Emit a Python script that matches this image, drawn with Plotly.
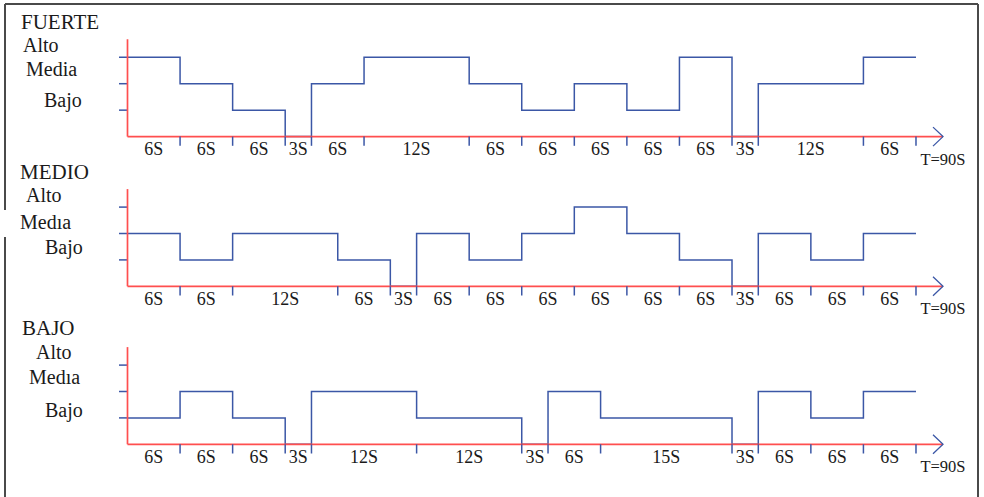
import plotly.graph_objects as go
import numpy as np

# ---------------- data ----------------
panel_titles = ["FUERTE", "MEDIO", "BAJO"]
level_names_fuerte = ["Alto", "Media", "Bajo"]
level_names_medio = ["Alto", "Medıa", "Bajo"]
level_names_bajo = ["Alto", "Medıa", "Bajo"]

fuerte_dur = [6, 6, 6, 3, 6, 12, 6, 6, 6, 6, 6, 3, 12, 6]
fuerte_lvl = [3, 2, 1, 0, 2, 3, 2, 1, 2, 1, 3, 0, 2, 3]

medio_dur = [6, 6, 12, 6, 3, 6, 6, 6, 6, 6, 6, 3, 6, 6, 6]
medio_lvl = [2, 1, 2, 1, 0, 2, 1, 2, 3, 2, 1, 0, 2, 1, 2]

bajo_dur = [6, 6, 6, 3, 12, 12, 3, 6, 15, 3, 6, 6, 6]
bajo_lvl = [1, 2, 1, 0, 2, 1, 0, 2, 1, 0, 2, 1, 2]

total_label = "T=90S"

# ---------------- styling / layout ----------------
W, H = 984, 497
X0_PX, PX_PER_S = 127.5, 8.761
BASE_PX = [136.6, 286.3, 444.3]
STEP_PX = [26.45, 26.4, 26.4]
BLUE = "#3B57A6"
RED = "#FF4F4F"
TXT = "#1a1a1a"
FONT = "Liberation Serif"

x_range = [-X0_PX / PX_PER_S, (W - X0_PX) / PX_PER_S]

fig = go.Figure()
panels = [
    (fuerte_dur, fuerte_lvl, level_names_fuerte),
    (medio_dur, medio_lvl, level_names_medio),
    (bajo_dur, bajo_lvl, level_names_bajo),
]
ytick_len = 8.5 / PX_PER_S
arrow_tip = (943 - X0_PX) / PX_PER_S
arrow_back = (933 - X0_PX) / PX_PER_S

for i, (dur, lvl, names) in enumerate(panels):
    ya = "y" if i == 0 else f"y{i+1}"
    bounds = np.concatenate([[0], np.cumsum(dur)])
    s = STEP_PX[i]
    # step signal
    fig.add_trace(go.Scatter(
        x=bounds, y=list(lvl) + [lvl[-1]], mode="lines", line_shape="hv",
        line=dict(color=BLUE, width=1.5), yaxis=ya, hoverinfo="skip"))
    # y ticks
    tx, ty = [], []
    for L in (1, 2, 3):
        tx += [-ytick_len, 0, None]
        ty += [L, L, None]
    fig.add_trace(go.Scatter(x=tx, y=ty, mode="lines",
                             line=dict(color=BLUE, width=1.5), yaxis=ya, hoverinfo="skip"))
    # red axes
    fig.add_trace(go.Scatter(
        x=[0, 0, None, 0, arrow_tip], y=[3 + 18 / s, 0, None, 0, 0], mode="lines",
        line=dict(color=RED, width=1.7), yaxis=ya, hoverinfo="skip"))
    # bottom ticks
    bx, by = [], []
    for b in bounds[1:]:
        bx += [b, b, None]
        by += [0, -9.2 / s, None]
    fig.add_trace(go.Scatter(x=bx, y=by, mode="lines",
                             line=dict(color=BLUE, width=1.5), yaxis=ya, hoverinfo="skip"))
    # arrow head
    fig.add_trace(go.Scatter(x=[arrow_back, arrow_tip, arrow_back],
                             y=[9.5 / s, 0, -9.5 / s], mode="lines",
                             line=dict(color=BLUE, width=1.3), yaxis=ya, hoverinfo="skip"))
    # segment labels
    mids = (bounds[:-1] + bounds[1:]) / 2
    fig.add_trace(go.Scatter(
        x=mids, y=[-13.8 / s] * len(mids), mode="text",
        text=[f"{d}S" for d in dur], textposition="middle center",
        textfont=dict(family=FONT, size=18, color=TXT), yaxis=ya, hoverinfo="skip"))
    # T=90S
    fig.add_trace(go.Scatter(
        x=[arrow_tip], y=[-24 / s], mode="text", text=[total_label],
        textposition="middle center",
        textfont=dict(family=FONT, size=16.5, color=TXT), yaxis=ya, hoverinfo="skip"))

# left labels (pixel positions: x-left, y-center)
label_pos = [
    [(19, 22), (21, 45), (24, 69), (42, 100)],
    [(18, 172), (24, 195), (18, 222), (43, 247)],
    [(20, 328), (34, 352), (27, 377), (43, 410)],
]
annotations = []
for i, title in enumerate(panel_titles):
    texts = [title] + panels[i][2]
    for j, (t, (px, py)) in enumerate(zip(texts, label_pos[i])):
        annotations.append(dict(
            text=t, x=px / W, y=1 - py / H, xref="paper", yref="paper",
            xanchor="left", yanchor="middle", showarrow=False,
            font=dict(family=FONT, size=21 if j == 0 else 20, color=TXT)))

# frame
frame = dict(type="line", xref="paper", yref="paper",
             line=dict(color="#4a4a4a", width=2))
shapes = [
    dict(frame, x0=5 / W, x1=978 / W, y0=1 - 4 / H, y1=1 - 4 / H),
    dict(frame, x0=5 / W, x1=5 / W, y0=1 - 4 / H, y1=1 - 210 / H),
    dict(frame, x0=5 / W, x1=5 / W, y0=1 - 237 / H, y1=0),
    dict(frame, x0=978 / W, x1=978 / W, y0=1 - 4 / H, y1=0),
]

layout_axes = {}
for i in range(3):
    B, s = BASE_PX[i], STEP_PX[i]
    rng = [(B - H) / s, B / s]
    key = "yaxis" if i == 0 else f"yaxis{i+1}"
    ax = dict(range=rng, visible=False, domain=[0, 1], fixedrange=True)
    if i > 0:
        ax["overlaying"] = "y"
    layout_axes[key] = ax

fig.update_layout(
    width=W, height=H, margin=dict(l=0, r=0, t=0, b=0),
    paper_bgcolor="white", plot_bgcolor="white", showlegend=False,
    xaxis=dict(range=x_range, visible=False, fixedrange=True),
    annotations=annotations, shapes=shapes, **layout_axes)

fig.write_html("out.html", config={"displayModeBar": False},
               post_script="document.body.style.margin='0';document.body.style.overflow='hidden';")
